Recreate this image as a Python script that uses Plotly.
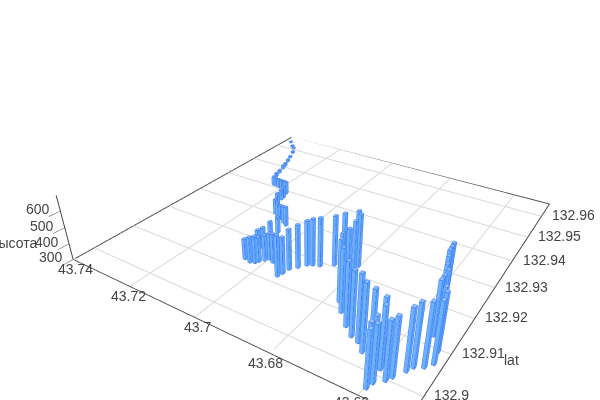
import plotly.graph_objects as go

lat = [132.9636,132.9616,132.9604,132.9582,132.9555,132.9532,132.9509,132.9492,132.9469,132.9449,132.9432,132.9410,132.9409,132.9406,132.9403,132.9399,132.9389,132.9370,132.9360,132.9326,132.9302,132.9294,132.9289,132.9281,132.9274,
       132.9242,132.9205,132.9181,132.9168,132.9132,132.9128,132.9132,132.9139,132.9148,132.9156,132.9151,132.9120,132.9132,132.9149,132.9163,132.9178,132.9184,132.9189,132.9206,132.9211,132.9239,132.9226,132.9203,132.9171,132.9148,132.9118,132.9095,
       132.9069,132.9053,132.9047,132.9031,132.9044,132.9033,132.9014,132.8993,132.8983,132.8984,132.8970,132.8998,132.9009,132.9031,132.9044,132.9053,132.9067,132.9094,132.9106,132.9125,132.9133,132.9154,132.9170,132.9193,132.9211,132.9224,132.9233]
lon = [43.7375,43.7351,43.7335,43.7318,43.7304,43.7292,43.7281,43.7274,43.7266,43.7259,43.7250,43.7231,43.7222,43.7209,43.7196,43.7181,43.7166,43.7158,43.7157,43.7137,43.7121,43.7106,43.7092,43.7074,43.7060,
       43.7056,43.7044,43.7043,43.7046,43.7050,43.7031,43.7019,43.7015,43.7005,43.6998,43.6984,43.6941,43.6937,43.6934,43.6921,43.6908,43.6897,43.6880,43.6853,43.6832,43.6816,43.6802,43.6798,43.6790,43.6789,43.6770,43.6747,
       43.6715,43.6690,43.6670,43.6649,43.6638,43.6608,43.6597,43.6600,43.6603,43.6592,43.6596,43.6575,43.6568,43.6553,43.6546,43.6529,43.6517,43.6524,43.6532,43.6551,43.6550,43.6552,43.6563,43.6572,43.6579,43.6581,43.6582]
height = [309,309,313,313,313,317,320,324,320,324,327,354,354,357,361,368,382,381,366,400,399,391,394,410,423,
          407,435,432,434,428,459,468,454,461,468,481,550,524,547,563,575,586,597,604,626,613,621,616,625,636,661,670,
          667,668,681,681,636,642,647,635,620,620,619,628,633,648,656,656,647,632,631,615,625,615,609,608,608,605,609]
z_base = 300
lat_ticks = [132.9,132.91,132.92,132.93,132.94,132.95,132.96]
lon_ticks = [43.66,43.68,43.7,43.72,43.74]
z_ticks = [300,400,500,600]
lat_frame = [132.8953,132.9665]
lon_frame = [43.65,43.74]
lat_range = [132.8952,132.9666]
lon_range = [43.6499,43.7401]
z_range = [299.8,690]
bar_w_lat = 0.00072
bar_w_lon = 0.00072

vx,vy,vz,fi,fj,fk,fc=[],[],[],[],[],[],[]
ex,ey,ez=[],[],[]
for la,lo,h in zip(lat,lon,height):
    n=len(vx)
    x0,x1=la-bar_w_lat/2,la+bar_w_lat/2
    y0,y1=lo-bar_w_lon/2,lo+bar_w_lon/2
    vx+= [x0,x1,x1,x0,x0,x1,x1,x0]
    vy+= [y0,y0,y1,y1,y0,y0,y1,y1]
    vz+= [z_base]*4+[h]*4
    quads=[((0,1,5,4),"#5aa2fb"),((1,2,6,5),"#5aa2fb"),((2,3,7,6),"#5aa2fb"),((3,0,4,7),"#6db0ff"),((4,5,6,7),"#8cc0ff"),((0,1,2,3),"#5aa2fb")]
    for (p,q,r,s),c in quads:
        fi+=[n+p,n+p]; fj+=[n+q,n+r]; fk+=[n+r,n+s]; fc+=[c,c]
    for p,q in [(0,1),(1,2),(2,3),(3,0),(4,5),(5,6),(6,7),(7,4),(0,4),(1,5),(2,6),(3,7)]:
        ex+=[vx[n+p],vx[n+q],None]; ey+=[vy[n+p],vy[n+q],None]; ez+=[vz[n+p],vz[n+q],None]

fig=go.Figure()
fig.add_trace(go.Mesh3d(x=vx,y=vy,z=vz,i=fi,j=fj,k=fk,facecolor=fc,flatshading=True,
    lighting=dict(ambient=1,diffuse=0,specular=0,roughness=1,fresnel=0),hoverinfo="skip",showscale=False))
fig.add_trace(go.Scatter3d(x=ex,y=ey,z=ez,mode="lines",line=dict(color="#3a74e6",width=1.5),hoverinfo="skip",showlegend=False))
gx,gy,gz=[],[],[]
for t in lat_ticks:
    gx+=[t,t,None]; gy+=[lon_frame[0],lon_frame[1],None]; gz+=[z_base,z_base,None]
for t in lon_ticks[:-1]:
    gx+=[lat_frame[0],lat_frame[1],None]; gy+=[t,t,None]; gz+=[z_base,z_base,None]
fig.add_trace(go.Scatter3d(x=gx,y=gy,z=gz,mode="lines",line=dict(color="#d9d9d9",width=2),hoverinfo="skip",showlegend=False))
bx=[lat_frame[0],lat_frame[1],lat_frame[1]]
by=[lon_frame[1],lon_frame[1],lon_frame[0]]
fig.add_trace(go.Scatter3d(x=bx,y=by,z=[z_base]*3,mode="lines",line=dict(color="#555555",width=2),hoverinfo="skip",showlegend=False))
font=dict(family="Liberation Sans",size=14,color="#444444")
def ax(tv,rng,ticks,line):
    return dict(title=dict(text=""),tickvals=tv,ticktext=[str(v) for v in tv],range=rng,autorange=False,
      showticklabels=False,showgrid=False,zeroline=False,showbackground=False,showline=line,linecolor="#444444",linewidth=2,
      ticks=ticks,ticklen=4,tickcolor="#444444",showspikes=False)
lon_shift = {43.66:(-7,-7),43.68:(-5,-10),43.7:(3,-10),43.72:(-2,-10),43.74:(2,-10)}
notes=[]
for t in lon_ticks:
    notes.append(dict(x=lat_frame[0],y=t,z=z_base,text=str(t),showarrow=False,xanchor="center",yanchor="middle",xshift=lon_shift[t][0],yshift=lon_shift[t][1],font=font))
for t in lat_ticks:
    notes.append(dict(x=t,y=lon_frame[0],z=z_base,text=str(t),showarrow=False,xanchor="left",yanchor="middle",xshift=9,yshift=1,font=font))
for t in z_ticks:
    notes.append(dict(x=lat_frame[0],y=lon_frame[1],z=t,text=str(t),showarrow=False,xanchor="right",yanchor="middle",xshift=-9,yshift=2,font=font))
W,H=616,498
fig.update_layout(width=W,height=H,margin=dict(l=0,r=0,t=0,b=0),showlegend=False,paper_bgcolor="white",
  annotations=[dict(text="высота",x=39/W,y=1-243/H,xref="paper",yref="paper",xanchor="right",yanchor="middle",showarrow=False,font=font),
               dict(text="lat",x=511/W,y=1-360/H,xref="paper",yref="paper",xanchor="center",yanchor="middle",showarrow=False,font=font)],
  scene=dict(domain=dict(x=[8/W,608/W],y=[8/H,490/H]),
   xaxis=ax(lat_ticks,lat_range,"",True),yaxis=ax(lon_ticks,lon_range,"",True),zaxis=ax(z_ticks,z_range,"outside",True),
   annotations=notes,
   aspectmode="manual",aspectratio=dict(x=1.04,y=1,z=0.196),
   camera=dict(eye=dict(x=-1.2629,y=-0.7582,z=0.7889),center=dict(x=-0.2135,y=-0.0642,z=-0.0281),up=dict(x=0,y=0,z=1))))
fig.write_html("out.html",config=dict(displayModeBar=False),default_width="616px",default_height="498px",
  post_script="document.documentElement.style.overflow='hidden';document.body.style.overflow='hidden';document.body.style.margin='0';")
